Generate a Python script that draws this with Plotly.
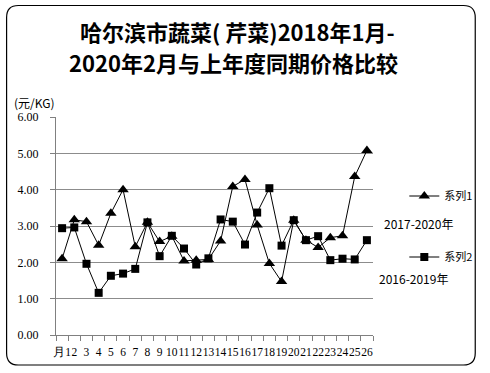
import plotly.graph_objects as go

categories = ["月1"] + [str(i) for i in range(2, 27)]
series1 = [2.10, 3.17, 3.12, 2.47, 3.35, 4.00, 2.43, 3.10, 2.57, 2.72, 2.04, 2.06, 2.08,
           2.59, 4.09, 4.28, 3.03, 1.97, 1.47, 3.16, 2.61, 2.41, 2.68, 2.73, 4.36, 5.08]
series2 = [2.94, 2.96, 1.96, 1.16, 1.63, 1.69, 1.82, 3.10, 2.17, 2.73, 2.38, 1.94, 2.11,
           3.18, 3.12, 2.49, 3.37, 4.04, 2.46, 3.16, 2.61, 2.72, 2.06, 2.10, 2.08, 2.61]
name1 = "系列1"
name2 = "系列2"
note1 = "2017-2020年"
note2 = "2016-2019年"
title_line1 = "哈尔滨市蔬菜( 芹菜)2018年1月-"
title_line2 = "2020年2月与上年度同期价格比较"
unit_text = "(元/KG)"

W, H = 490, 373
L, R, T, B = 56, 110, 117, 38
PW, PH = W - L - R, H - T - B


def px(x):
    return (x - L) / PW


def py(y):
    return (H - B - y) / PH


fig = go.Figure()
fig.add_trace(go.Scatter(
    x=categories, y=series1, name=name1, mode="lines+markers",
    line=dict(color="black", width=1),
    marker=dict(symbol="triangle-up", size=10, color="black"),
    legend="legend"))
fig.add_trace(go.Scatter(
    x=categories, y=series2, name=name2, mode="lines+markers",
    line=dict(color="black", width=1),
    marker=dict(symbol="square", size=8, color="black"),
    legend="legend2"))

# rounded border
x0, x1, y0, y1, r = 5.5, 484.5, 5.5, 365, 12
pts = [
    ("M", px(x0 + r), py(y0)), ("L", px(x1 - r), py(y0)),
    ("Q", px(x1), py(y0), px(x1), py(y0 + r)),
    ("L", px(x1), py(y1 - r)),
    ("Q", px(x1), py(y1), px(x1 - r), py(y1)),
    ("L", px(x0 + r), py(y1)),
    ("Q", px(x0), py(y1), px(x0), py(y1 - r)),
    ("L", px(x0), py(y0 + r)),
    ("Q", px(x0), py(y0), px(x0 + r), py(y0)),
]
parts = []
for p in pts:
    cmd, vals = p[0], p[1:]
    coords = " ".join(f"{vals[i]:.5f},{vals[i + 1]:.5f}" for i in range(0, len(vals), 2))
    parts.append(f"{cmd} {coords}")
path = " ".join(parts) + " Z"

title_font = dict(family="Noto Sans CJK SC", size=22, color="black", weight="bold")
small_font = dict(family="Noto Sans CJK SC", size=12, color="black")

fig.update_layout(
    width=W, height=H,
    margin=dict(l=L, r=R, t=T, b=B),
    paper_bgcolor="white", plot_bgcolor="white",
    showlegend=True,
    xaxis=dict(type="category", range=[-0.5, 25.5], tickson="boundaries",
               tickmode="linear", tick0=0, dtick=1,
               ticks="outside", ticklen=5, tickcolor="#808080",
               showline=True, linecolor="#808080", linewidth=1, showgrid=False,
               tickangle=0, fixedrange=True, ticklabelstandoff=6,
               tickfont=dict(family="Liberation Serif", size=11.5, color="black")),
    yaxis=dict(range=[0, 6], dtick=1, tickformat=".2f",
               ticks="outside", ticklen=5, tickcolor="#808080",
               showline=True, linecolor="#808080", linewidth=1,
               showgrid=True, gridcolor="#8c8c8c", gridwidth=1, zeroline=False,
               ticklabelstandoff=9, fixedrange=True,
               tickfont=dict(family="Liberation Serif", size=12, color="black")),
    legend=dict(x=px(412), y=py(196), xanchor="left", yanchor="middle",
                bgcolor="rgba(0,0,0,0)", font=dict(family="Noto Sans CJK SC", size=11, color="black"),
                itemwidth=30),
    legend2=dict(x=px(412), y=py(257), xanchor="left", yanchor="middle",
                 bgcolor="rgba(0,0,0,0)", font=dict(family="Noto Sans CJK SC", size=11, color="black"),
                 itemwidth=30),
    shapes=[dict(type="path", path=path, xref="paper", yref="paper",
                 line=dict(color="black", width=1.2), fillcolor="rgba(0,0,0,0)", layer="above")],
    annotations=[
        dict(text=title_line1, x=px(241), y=py(31), xref="paper", yref="paper",
             xanchor="center", yanchor="middle", showarrow=False, font=title_font),
        dict(text=title_line2, x=px(237), y=py(62), xref="paper", yref="paper",
             xanchor="center", yanchor="middle", showarrow=False, font=title_font),
        dict(text=unit_text, x=px(11), y=py(103), xref="paper", yref="paper",
             xanchor="left", yanchor="middle", showarrow=False, font=small_font),
        dict(text=note1, x=px(426), y=py(223), xref="paper", yref="paper",
             xanchor="center", yanchor="middle", showarrow=False, font=small_font),
        dict(text=note2, x=px(421), y=py(278), xref="paper", yref="paper",
             xanchor="center", yanchor="middle", showarrow=False, font=small_font),
    ],
)

fig.write_html("out.html", config={"displayModeBar": False},
               post_script="document.body.style.margin='0';")
